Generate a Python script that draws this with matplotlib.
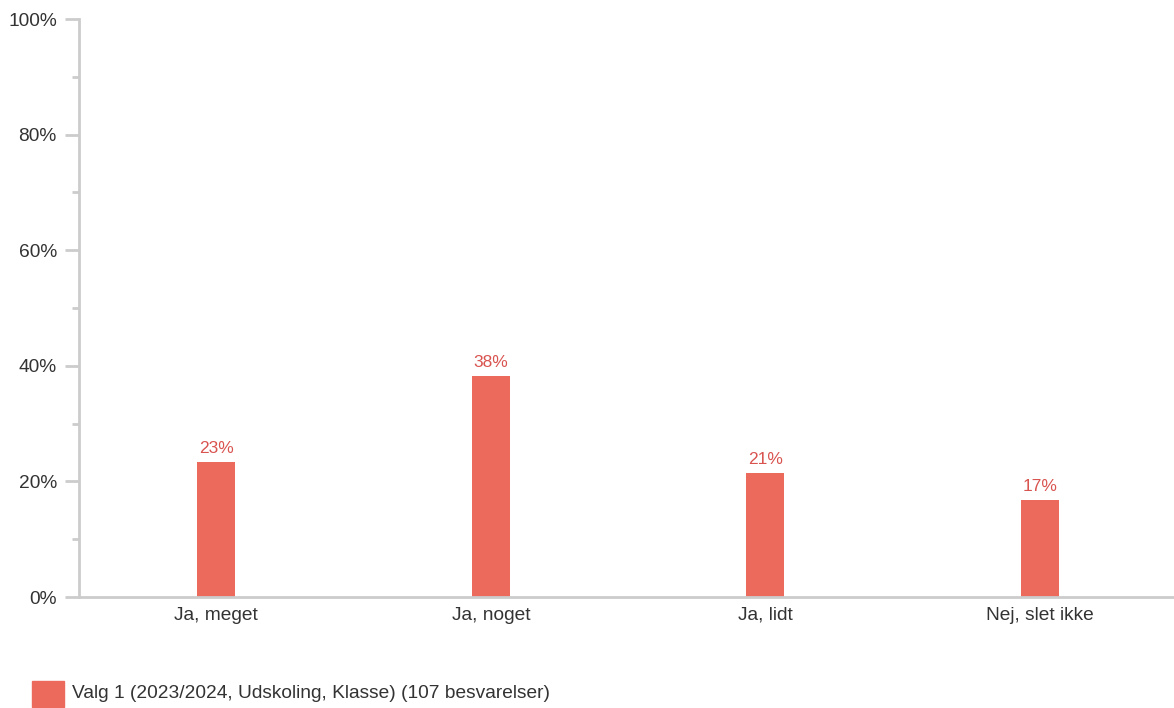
import matplotlib.pyplot as plt
from matplotlib.patches import Rectangle
from matplotlib.ticker import MultipleLocator, FuncFormatter

plt.rcParams['font.family'] = ['Liberation Sans', 'DejaVu Sans']

categories = ['Ja, meget', 'Ja, noget', 'Ja, lidt', 'Nej, slet ikke']
counts = [25, 41, 23, 18]
total = 107
values = [c / total * 100 for c in counts]
legend_label = 'Valg 1 (2023/2024, Udskoling, Klasse) (107 besvarelser)'

bar_color = '#EC6A5C'
label_color = '#D9534F'
axis_color = '#CCCCCC'
text_color = '#333333'

W, H = 1174, 708
fig = plt.figure(figsize=(W / 100, H / 100), dpi=100)
ax = fig.add_axes([79 / W, (H - 597) / H, 1098 / W, (597 - 19) / H])

x = list(range(len(categories)))
bars = ax.bar(x, values, width=0.138, color=bar_color, zorder=2)
for xi, v in zip(x, values):
    ax.text(xi, v + 1.0, f'{v:.0f}%', ha='center', va='bottom',
            fontsize=12.5, color=label_color)

ax.set_xlim(-0.5, len(categories) - 0.5)
ax.set_ylim(0, 100)
ax.set_xticks(x)
ax.set_xticklabels(categories, fontsize=13.8, color=text_color)
ax.yaxis.set_major_locator(MultipleLocator(20))
ax.yaxis.set_minor_locator(MultipleLocator(10))
ax.yaxis.set_major_formatter(FuncFormatter(lambda v, p: f'{v:.0f}%'))
ax.tick_params(axis='y', which='major', length=10, width=2, color=axis_color,
               labelsize=13.8, labelcolor=text_color, pad=6)
ax.tick_params(axis='y', which='minor', length=5, width=2, color=axis_color)
ax.tick_params(axis='x', length=0, pad=7)

for side in ['top', 'right']:
    ax.spines[side].set_visible(False)
for side in ['left', 'bottom']:
    ax.spines[side].set_color(axis_color)
    ax.spines[side].set_linewidth(2)
ax.spines['bottom'].set_zorder(3)

# legend at bottom left
fig.patches.append(Rectangle((32 / W, 1 - 707 / H), 32 / W, 26 / H,
                             transform=fig.transFigure, color=bar_color))
fig.text(72 / W, 1 - 694 / H, legend_label, fontsize=13.8, color=text_color,
         va='center', ha='left')

fig.savefig('out.png', dpi=100, facecolor='white')
